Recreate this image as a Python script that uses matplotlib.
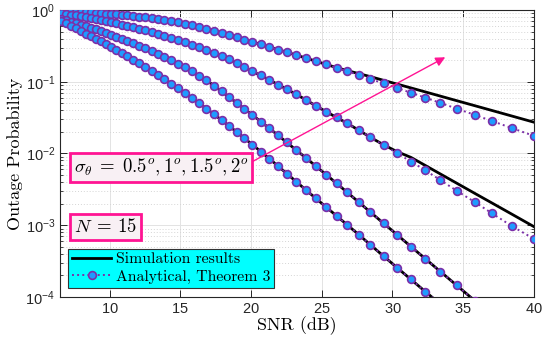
import numpy as np
import matplotlib
matplotlib.use('Agg')
import matplotlib.pyplot as plt
from matplotlib.ticker import LogLocator, NullFormatter

plt.rcParams['font.family'] = ['Liberation Sans', 'DejaVu Sans']
plt.rcParams['mathtext.fontset'] = 'cm'
plt.rcParams['axes.formatter.use_mathtext'] = True

# SNR grid (dB) shared by all curves
snr_db = [6.56, 6.91, 7.26, 7.61, 7.96, 8.31, 8.66, 9.01, 9.37, 9.73,
          10.10, 10.48, 10.87, 11.27, 11.68, 12.10, 12.53, 12.97, 13.42, 13.88,
          14.35, 14.83, 15.32, 15.82, 16.33, 16.85, 17.38, 17.92, 18.46, 18.99,
          19.52, 20.09, 20.69, 21.30, 21.91, 22.53, 23.19, 23.88, 24.56, 25.30,
          26.05, 26.80, 27.64, 28.44, 29.38, 30.33, 31.30, 32.32, 33.38, 34.54,
          35.80, 37.04, 38.42, 40.00]

# log10 of outage probability, analytical (Theorem 3)
logp_ana_05 = [-0.012, -0.015, -0.018, -0.022, -0.026, -0.030, -0.034, -0.039, -0.044, -0.049,
               -0.055, -0.061, -0.068, -0.075, -0.083, -0.092, -0.102, -0.113, -0.125, -0.138,
               -0.153, -0.170, -0.189, -0.210, -0.233, -0.262, -0.290, -0.320, -0.350, -0.380,
               -0.412, -0.445, -0.480, -0.516, -0.552, -0.589, -0.628, -0.670, -0.712, -0.758,
               -0.806, -0.854, -0.909, -0.962, -1.024, -1.088, -1.153, -1.222, -1.295, -1.375,
               -1.461, -1.548, -1.645, -1.755]
logp_ana_10 = [-0.045, -0.054, -0.064, -0.075, -0.086, -0.098, -0.110, -0.123, -0.137, -0.152,
               -0.168, -0.185, -0.203, -0.222, -0.242, -0.263, -0.285, -0.309, -0.334, -0.361,
               -0.389, -0.419, -0.450, -0.484, -0.520, -0.558, -0.600, -0.644, -0.690, -0.742,
               -0.795, -0.855, -0.913, -0.975, -1.040, -1.104, -1.175, -1.252, -1.333, -1.416,
               -1.498, -1.580, -1.678, -1.775, -1.885, -1.997, -2.112, -2.235, -2.370, -2.520,
               -2.675, -2.835, -3.010, -3.190]
logp_ana_15 = [-0.120, -0.140, -0.161, -0.182, -0.203, -0.225, -0.247, -0.270, -0.294, -0.319,
               -0.345, -0.372, -0.400, -0.430, -0.462, -0.496, -0.532, -0.570, -0.610, -0.653,
               -0.699, -0.748, -0.800, -0.856, -0.915, -0.979, -1.055, -1.135, -1.215, -1.295,
               -1.376, -1.463, -1.555, -1.650, -1.746, -1.846, -1.952, -2.062, -2.172, -2.293,
               -2.416, -2.542, -2.682, -2.818, -2.975, -3.133, -3.297, -3.467, -3.645, -3.838,
               -4.050, -4.260, -4.490, -4.750]
logp_ana_20 = [-0.150, -0.185, -0.220, -0.256, -0.292, -0.328, -0.364, -0.401, -0.439, -0.477,
               -0.517, -0.558, -0.601, -0.646, -0.693, -0.742, -0.794, -0.848, -0.904, -0.963,
               -1.025, -1.090, -1.158, -1.228, -1.300, -1.375, -1.453, -1.535, -1.618, -1.701,
               -1.785, -1.876, -1.973, -2.073, -2.175, -2.280, -2.392, -2.508, -2.622, -2.745,
               -2.870, -2.995, -3.135, -3.273, -3.432, -3.592, -3.755, -3.925, -4.100, -4.300,
               -4.510, -4.720, -4.950, -5.220]

# log10 of outage probability, simulation (same as analytical at low SNR)
logp_sim_05 = logp_ana_05[:40] + [-0.803, -0.845, -0.888, -0.929, -0.981, -1.033, -1.086, -1.142,
                                  -1.200, -1.264, -1.333, -1.401, -1.477, -1.564]
logp_sim_10 = logp_ana_10[:40] + [-1.498, -1.580, -1.678, -1.775, -1.880, -1.975, -2.054, -2.167,
                                  -2.285, -2.414, -2.554, -2.691, -2.844, -3.020]
logp_sim_15 = logp_ana_15
logp_sim_20 = logp_ana_20

x_ticks = [10, 15, 20, 25, 30, 35, 40]

pink = '#FF1493'
purple = '#7B2FA8'
blue = '#1E9BFF'

fig = plt.figure(figsize=(5.42, 3.42), dpi=100)
ax = fig.add_axes([0.1107, 0.1316, 0.8745, 0.8392])

snr = np.array(snr_db)
sims = [logp_sim_05, logp_sim_10, logp_sim_15, logp_sim_20]
anas = [logp_ana_05, logp_ana_10, logp_ana_15, logp_ana_20]

for i, s in enumerate(sims):
    ax.plot(snr, 10 ** np.array(s), color='black', lw=2,
            label='Simulation results' if i == 0 else None, zorder=3)
for i, a in enumerate(anas):
    ax.plot(snr, 10 ** np.array(a), color=purple, ls=':', lw=1.4,
            marker='o', ms=5.6, mfc=blue, mec=purple, mew=1.2,
            label='Analytical, Theorem 3' if i == 0 else None, zorder=4)

ax.set_yscale('log')
ax.set_xlim(6.5, 40)
ax.set_ylim(1e-4, 1)
ax.set_xticks(x_ticks)
ax.yaxis.set_major_locator(LogLocator(base=10, numticks=10))
ax.yaxis.set_minor_locator(LogLocator(base=10, subs=np.arange(2, 10), numticks=20))
ax.yaxis.set_minor_formatter(NullFormatter())

ax.grid(True, which='major', color='#E3E3E3', lw=0.7, ls='-')
ax.grid(True, which='minor', axis='y', color='#D5D5D5', lw=0.7, ls=(0, (1, 2)))
ax.set_axisbelow(True)

ax.tick_params(which='both', direction='in', top=True, right=True,
               colors='#262626', labelsize=10.5)
ax.tick_params(which='major', length=5, width=0.7)
ax.tick_params(which='minor', length=2.5, width=0.6)
for sp in ax.spines.values():
    sp.set_color('#262626')
    sp.set_linewidth(0.8)

ax.set_xlabel('SNR (dB)', family='cmr10', fontsize=13, labelpad=0)
ax.set_ylabel('Outage Probability', family='cmr10', fontsize=13, labelpad=2)

box = dict(boxstyle='square,pad=0.22', fc='#F8F0F4', ec=pink, lw=2)
ax.text(0.029, 0.451, r'$\sigma_\theta\;=\;0.5^o, 1^o, 1.5^o, 2^o$', transform=ax.transAxes,
        ha='left', va='center', fontsize=13.5, bbox=box, zorder=6)
ax.text(0.029, 0.243, r'$N\:=\:15$', transform=ax.transAxes,
        ha='left', va='center', fontsize=13.5, bbox=box, zorder=6)

ax.annotate('', xy=(33.9, 0.229), xytext=(19.93, 0.0074),
            arrowprops=dict(arrowstyle='-|>', color=pink, lw=1.0, mutation_scale=14),
            zorder=5)

leg = ax.legend(loc='lower left', bbox_to_anchor=(0.017, 0.033),
                prop={'family': 'cmr10', 'size': 11.3}, fancybox=False,
                framealpha=1, facecolor='#00FFFF', edgecolor='#333333',
                handlelength=2.5, borderpad=0.25, labelspacing=0.2,
                handletextpad=0.3, borderaxespad=0)
leg.get_frame().set_linewidth(0.8)
leg.set_zorder(7)

fig.savefig('out.png', dpi=100)
